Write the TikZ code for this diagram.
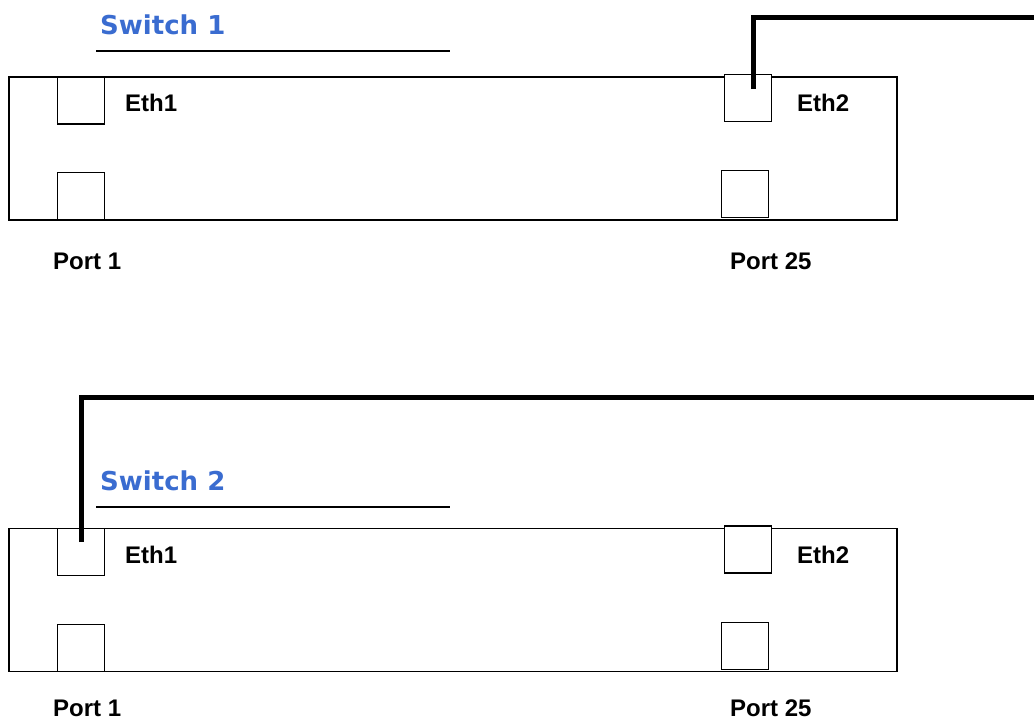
\documentclass[tikz,border=0pt]{standalone}
\usepackage{fontspec}
\setmainfont{Liberation Sans}
\newfontfamily\titlefont{DejaVu Sans}
\definecolor{swblue}{RGB}{58,108,208}
\begin{document}
\begin{tikzpicture}[x=1pt,y=-1pt,
  chassis/.style={draw,line width=1.5pt,rectangle,inner sep=0pt,minimum width=888pt,minimum height=143pt},
  portbox/.style={draw,fill=white,line width=1.5pt,rectangle,inner sep=0pt,minimum size=47pt},
  lbl/.style={anchor=base west,inner sep=0pt,font=\fontsize{24}{28}\selectfont\bfseries},
  ttl/.style={anchor=base west,inner sep=0pt,text=swblue,font=\titlefont\fontsize{26}{30}\selectfont\bfseries},
  uline/.style={line width=1.5pt},
  cable/.style={line width=5pt}]
\useasboundingbox (0,0) rectangle (1034,721);
% ---- Switch 1
\node[ttl] (t1) at (100,34) {Switch 1};
\coordinate (u1a) at (96,51); \coordinate (u1b) at (450,51);
\draw[uline] (u1a) -- (u1b);
\node[chassis] (s1) at (453,148.5) {};
\node[portbox] (s1p1) at (81,100.5) {};
\node[portbox] (s1p2) at (81,196) {};
\node[portbox] (s1p3) at (748,98) {};
\node[portbox] (s1p4) at (745,194) {};
\node[lbl] (s1e1) at (125,111) {Eth1};
\node[lbl] (s1e2) at (797,111) {Eth2};
\node[lbl] (s1q1) at (53,269) {Port 1};
\node[lbl] (s1q2) at (730,269) {Port 25};
% ---- Switch 2
\node[ttl] (t2) at (100,490) {Switch 2};
\coordinate (u2a) at (96,507); \coordinate (u2b) at (450,507);
\draw[uline] (u2a) -- (u2b);
\node[chassis] (s2) at (453,600) {};
\node[portbox] (s2p1) at (81,552) {};
\node[portbox] (s2p2) at (81,648) {};
\node[portbox] (s2p3) at (748,549.5) {};
\node[portbox] (s2p4) at (745,646) {};
\node[lbl] (s2e1) at (125,563) {Eth1};
\node[lbl] (s2e2) at (797,563) {Eth2};
\node[lbl] (s2q1) at (53,716) {Port 1};
\node[lbl] (s2q2) at (730,716) {Port 25};
% ---- cables
\coordinate (c1s) at ([xshift=5pt,yshift=9pt]s1p3.center);
\coordinate (c1e) at (1040,17);
\draw[cable] (c1s) |- (c1e);
\coordinate (c2s) at ([yshift=10pt]s2p1.center);
\coordinate (c2e) at (1040,397);
\draw[cable] (c2s) |- (c2e);
\end{tikzpicture}
\end{document}
